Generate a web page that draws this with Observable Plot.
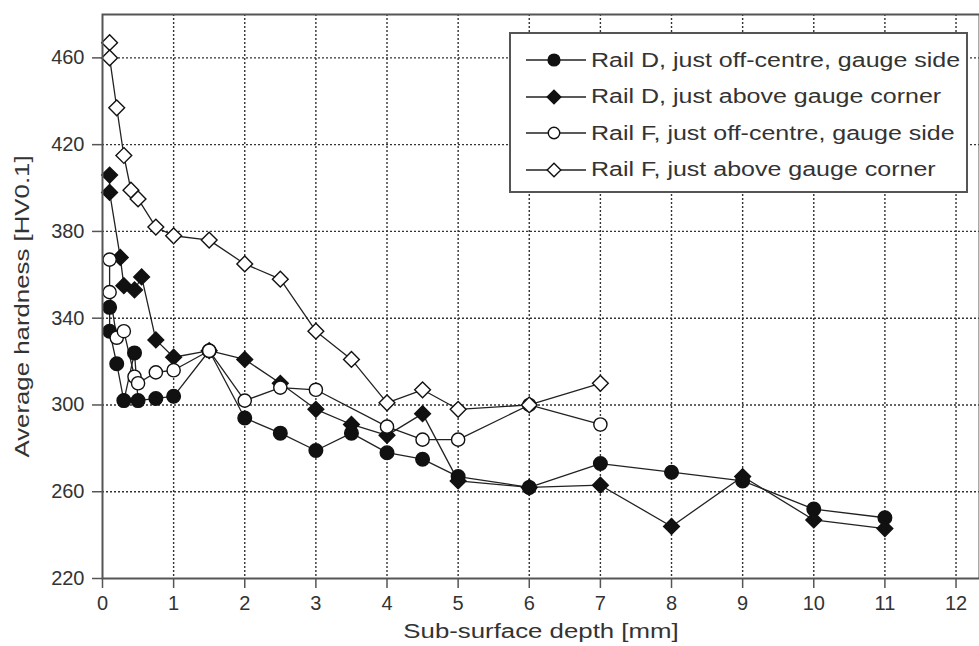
<!DOCTYPE html>
<html>
<head>
<meta charset="utf-8">
<script src="https://cdn.jsdelivr.net/npm/d3@7"></script>
<script src="https://cdn.jsdelivr.net/npm/@observablehq/plot@0.6"></script>
<style>
  body { margin: 0; background: #fff; }
  #chart { position: relative; width: 979px; height: 646px; font-family: "Liberation Sans", Arial, sans-serif; }
  #chart svg { display: block; }
  .legend {
    position: absolute; left: 509px; top: 32px; width: 459px; height: 161px;
    border: 2px solid #555; background: #fff; box-sizing: border-box;
    padding-top: 8px;
  }
  .legend .row { display: flex; align-items: center; height: 36.5px; }
  .legend .row svg { margin-left: 14px; margin-right: 4px; flex: none; }
  .legend .row span {
    display: inline-block; font-size: 20px; color: #333; white-space: nowrap;
    transform: scaleX(1.25); transform-origin: left center;
  }
</style>
</head>
<body>
<div id="chart"></div>
<script>
// Hardness profiles below the running surface of two rails
const seriesNames = [
  "Rail D, just off-centre, gauge side",
  "Rail D, just above gauge corner",
  "Rail F, just off-centre, gauge side",
  "Rail F, just above gauge corner"
];

// Rail D, just off-centre, gauge side
const railDCentreDepth    = [0.1, 0.1, 0.2, 0.3, 0.45, 0.5, 0.75, 1, 1.5, 2, 2.5, 3, 3.5, 4, 4.5, 5, 6, 7, 8, 9, 10, 11];
const railDCentreHardness = [345, 334, 319, 302, 324, 302, 303, 304, 325, 294, 287, 279, 287, 278, 275, 267, 262, 273, 269, 265, 252, 248];

// Rail D, just above gauge corner
const railDCornerDepth    = [0.1, 0.1, 0.25, 0.3, 0.45, 0.55, 0.75, 1, 1.5, 2, 2.5, 3, 3.5, 4, 4.5, 5, 6, 7, 8, 9, 10, 11];
const railDCornerHardness = [406, 398, 368, 355, 353, 359, 330, 322, 325, 321, 310, 298, 291, 286, 296, 265, 262, 263, 244, 267, 247, 243];

// Rail F, just off-centre, gauge side
const railFCentreDepth    = [0.1, 0.1, 0.2, 0.3, 0.45, 0.5, 0.75, 1, 1.5, 2, 2.5, 3, 4, 4.5, 5, 6, 7];
const railFCentreHardness = [367, 352, 331, 334, 313, 310, 315, 316, 325, 302, 308, 307, 290, 284, 284, 300, 291];

// Rail F, just above gauge corner
const railFCornerDepth    = [0.1, 0.1, 0.2, 0.3, 0.4, 0.5, 0.75, 1, 1.5, 2, 2.5, 3, 3.5, 4, 4.5, 5, 6, 7];
const railFCornerHardness = [467, 460, 437, 415, 399, 395, 382, 378, 376, 365, 358, 334, 321, 301, 307, 298, 300, 310];

const depthTicks = [0, 1, 2, 3, 4, 5, 6, 7, 8, 9, 10, 11, 12];
const hardnessTicks = [220, 260, 300, 340, 380, 420, 460];

// Marker styles: filled circle, filled diamond, open circle, open diamond
const markers = [
  {symbol: d3.symbolCircle,   r: 6.8, fill: "#111"},
  {symbol: d3.symbolDiamond2, r: 7.1, fill: "#111"},
  {symbol: d3.symbolCircle,   r: 6.6, fill: "#fff"},
  {symbol: d3.symbolDiamond2, r: 7.1, fill: "#fff"}
];

const depths = [railDCentreDepth, railDCornerDepth, railFCentreDepth, railFCornerDepth];
const hardness = [railDCentreHardness, railDCornerHardness, railFCentreHardness, railFCornerHardness];

const series = seriesNames.map((name, i) =>
  depths[i].map((d, j) => ({series: name, depth: d, hardness: hardness[i][j]}))
);

const lineMarks = series.map(rows =>
  Plot.line(rows, {x: "depth", y: "hardness", stroke: "#222", strokeWidth: 1.3})
);
const dotMarks = series.map((rows, i) =>
  Plot.dot(rows, {
    x: "depth", y: "hardness",
    symbol: markers[i].symbol, r: markers[i].r,
    fill: markers[i].fill, stroke: "#111", strokeWidth: 1.4
  })
);

const chart = Plot.plot({
  width: 979,
  height: 646,
  marginLeft: 102,
  marginRight: 0,
  marginTop: 14,
  marginBottom: 68,
  style: {fontFamily: "'Liberation Sans', Arial, sans-serif", fontSize: "20px", color: "#333", background: "#fff"},
  x: {domain: [0, 12.33]},
  y: {domain: [220, 480]},
  marks: [
    Plot.gridX(depthTicks.slice(1), {stroke: "#333", strokeOpacity: 1, strokeWidth: 1.4, strokeDasharray: "2,2"}),
    Plot.gridY(hardnessTicks.slice(1), {stroke: "#333", strokeOpacity: 1, strokeWidth: 1.4, strokeDasharray: "2,2"}),
    ...lineMarks,
    ...dotMarks,
    Plot.frame({stroke: "#555", strokeWidth: 2}),
    Plot.axisX({ticks: depthTicks, tickSize: 10, tickPadding: 7, stroke: "#555", strokeWidth: 1.5,
      label: "Sub-surface depth [mm]", labelAnchor: "center", labelArrow: "none", labelOffset: 59}),
    Plot.axisY({ticks: hardnessTicks, tickSize: 10, tickPadding: 8, stroke: "#555", strokeWidth: 1.5,
      label: "Average hardness [HV0.1]", labelAnchor: "center", labelArrow: "none", labelOffset: 88})
  ]
});

const holder = document.getElementById("chart");
holder.appendChild(chart);

// The axis titles are set in a wide face: stretch them horizontally
function widen(selector, factor, shift) {
  d3.select(chart).selectAll(selector).each(function() {
    const w = this.getComputedTextLength();
    d3.select(this)
      .attr("textLength", w * factor)
      .attr("lengthAdjust", "spacingAndGlyphs");
    if (shift) d3.select(this).attr("dx", shift);
  });
}
widen('g[aria-label="x-axis label"] text', 1.29, 0);
widen('g[aria-label="y-axis label"] text', 1.29, -10);

// Legend box in the upper right of the plotting area
const legend = document.createElement("div");
legend.className = "legend";
seriesNames.forEach((name, i) => {
  const row = document.createElement("div");
  row.className = "row";
  const svg = d3.create("svg").attr("width", 62).attr("height", 24);
  svg.append("line").attr("x1", 1).attr("x2", 61).attr("y1", 12).attr("y2", 12)
    .attr("stroke", "#222").attr("stroke-width", 1.3);
  const m = markers[i];
  svg.append("path")
    .attr("transform", "translate(29,12)")
    .attr("d", d3.symbol(m.symbol, Math.PI * m.r * m.r * 0.75)())
    .attr("fill", m.fill).attr("stroke", "#111").attr("stroke-width", 1.4);
  row.appendChild(svg.node());
  const label = document.createElement("span");
  label.textContent = name;
  row.appendChild(label);
  legend.appendChild(row);
});
holder.appendChild(legend);
</script>
</body>
</html>
